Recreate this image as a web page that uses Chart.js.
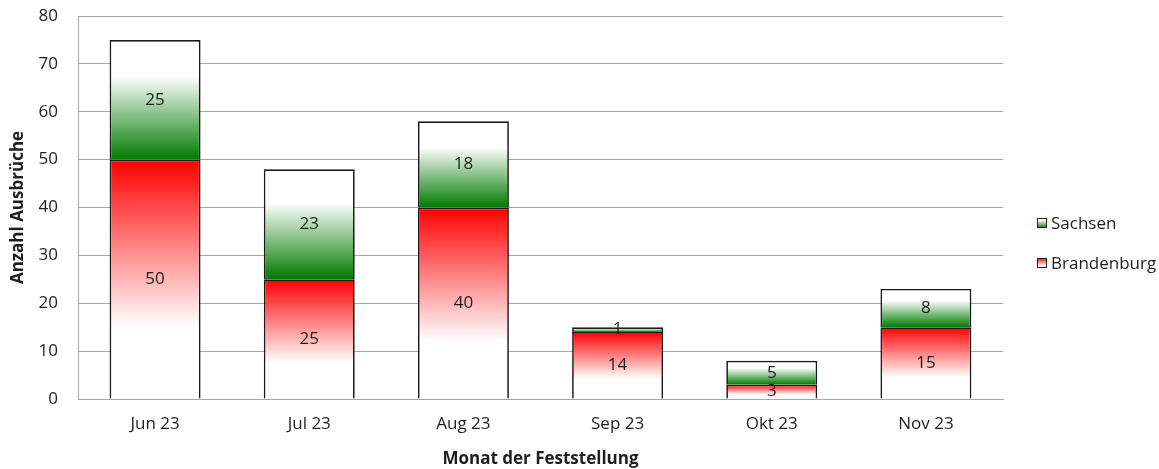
<!DOCTYPE html>
<html lang="de">
<head>
<meta charset="utf-8">
<title>Ausbrüche nach Monat</title>
<script src="https://cdn.jsdelivr.net/npm/chart.js@4.4.0/dist/chart.umd.min.js"></script>
<style>
    html, body { margin: 0; padding: 0; background: #fff; }
    #wrap { width: 1159px; height: 469px; }
</style>
</head>
<body>
<div id="wrap"><canvas id="outbreakChart" width="1159" height="469"></canvas></div>
<script>
// Data
const MONTHS = ['Jun 23', 'Jul 23', 'Aug 23', 'Sep 23', 'Okt 23', 'Nov 23'];
const BRANDENBURG = [50, 25, 40, 14, 3, 15];
const SACHSEN = [25, 23, 18, 1, 5, 8];
const Y_TICKS = [0, 10, 20, 30, 40, 50, 60, 70, 80];

const FONT = '"Open Sans", "Noto Sans", sans-serif';
const TEXT_COLOR = '#1e1e1e';
const GRID_COLOR = '#a6a6a6';
const RED = 'rgb(255, 0, 0)';
const GREEN = 'rgb(0, 122, 0)';

// Vertical gradient for one stacked segment (colour at the inner end, fading to white)
function segmentGradient(context, color, fromBottom) {
    const chart = context.chart;
    if (!chart.chartArea || context.type !== 'data') return color;
    const i = context.dataIndex;
    const base = context.datasetIndex === 0 ? 0 : BRANDENBURG[i];
    const top = context.datasetIndex === 0 ? BRANDENBURG[i] : BRANDENBURG[i] + SACHSEN[i];
    const y = chart.scales.y;
    const yBase = y.getPixelForValue(base);
    const yTop = y.getPixelForValue(top);
    const g = fromBottom
        ? chart.ctx.createLinearGradient(0, yBase, 0, yTop)
        : chart.ctx.createLinearGradient(0, yTop, 0, yBase);
    g.addColorStop(0, color);
    g.addColorStop(0.7, '#ffffff');
    g.addColorStop(1, '#ffffff');
    return g;
}

// Values in the middle of every segment
const segmentLabels = {
    id: 'segmentLabels',
    afterDatasetsDraw(chart) {
        const ctx = chart.ctx;
        ctx.save();
        ctx.font = '17px ' + FONT;
        ctx.fillStyle = TEXT_COLOR;
        ctx.textAlign = 'center';
        ctx.textBaseline = 'middle';
        chart.data.datasets.forEach((ds, di) => {
            chart.getDatasetMeta(di).data.forEach((bar, i) => {
                ctx.fillText(String(ds.data[i]), bar.x, (bar.y + bar.base) / 2);
            });
        });
        ctx.restore();
    }
};

// Legend on the right, drawn by hand so the plot keeps its width
const sideLegend = {
    id: 'sideLegend',
    afterDraw(chart) {
        const ctx = chart.ctx;
        const items = [
            { text: 'Sachsen', color: GREEN, y: 223, fromBottom: true },
            { text: 'Brandenburg', color: RED, y: 263, fromBottom: false }
        ];
        ctx.save();
        ctx.font = '17px ' + FONT;
        ctx.textBaseline = 'middle';
        items.forEach(item => {
            const g = item.fromBottom
                ? ctx.createLinearGradient(0, item.y + 5, 0, item.y - 5)
                : ctx.createLinearGradient(0, item.y - 5, 0, item.y + 5);
            g.addColorStop(0, item.color);
            g.addColorStop(0.8, '#ffffff');
            ctx.fillStyle = g;
            ctx.fillRect(1037, item.y - 5, 10, 10);
            ctx.strokeStyle = '#222';
            ctx.lineWidth = 1;
            ctx.strokeRect(1037.5, item.y - 4.5, 9, 9);
            ctx.fillStyle = TEXT_COLOR;
            ctx.fillText(item.text, 1051, item.y + 1);
        });
        ctx.restore();
    }
};

const outbreakChart = new Chart(document.getElementById('outbreakChart'), {
    type: 'bar',
    data: {
        labels: MONTHS,
        datasets: [
            {
                label: 'Brandenburg',
                data: BRANDENBURG,
                backgroundColor: ctx => segmentGradient(ctx, RED, false),
                borderColor: '#1a1a1a',
                borderWidth: 1.7,
                categoryPercentage: 1,
                barPercentage: 0.59
            },
            {
                label: 'Sachsen',
                data: SACHSEN,
                backgroundColor: ctx => segmentGradient(ctx, GREEN, true),
                borderColor: '#1a1a1a',
                borderWidth: 1.7,
                categoryPercentage: 1,
                barPercentage: 0.59
            }
        ]
    },
    options: {
        responsive: false,
        animation: false,
        layout: { padding: { top: 16, right: 156, left: 0, bottom: 0 } },
        plugins: {
            legend: { display: false },
            tooltip: { enabled: false }
        },
        scales: {
            x: {
                stacked: true,
                grid: { display: false, drawTicks: false },
                border: { color: GRID_COLOR },
                ticks: { color: TEXT_COLOR, font: { family: FONT, size: 17 }, padding: 15 },
                title: {
                    display: true,
                    text: 'Monat der Feststellung',
                    color: TEXT_COLOR,
                    font: { family: FONT, size: 17, weight: 'bold' },
                    padding: { top: 0, bottom: 0 }
                },
                afterFit: scale => { scale.height = 70; }
            },
            y: {
                stacked: true,
                min: 0,
                max: 80,
                afterBuildTicks: scale => { scale.ticks = Y_TICKS.map(v => ({ value: v })); },
                grid: { color: GRID_COLOR, lineWidth: 1, drawTicks: false },
                border: { color: GRID_COLOR },
                ticks: { color: TEXT_COLOR, font: { family: FONT, size: 17 }, padding: 20 },
                title: {
                    display: true,
                    text: 'Anzahl Ausbrüche',
                    color: TEXT_COLOR,
                    font: { family: FONT, size: 17, weight: 'bold' },
                    padding: { top: 8, bottom: 0 }
                },
                afterFit: scale => {
                    scale.width = 78;
                    scale.paddingTop = 0;
                    scale.paddingBottom = 0;
                }
            }
        }
    },
    plugins: [segmentLabels, sideLegend]
});
</script>
</body>
</html>
